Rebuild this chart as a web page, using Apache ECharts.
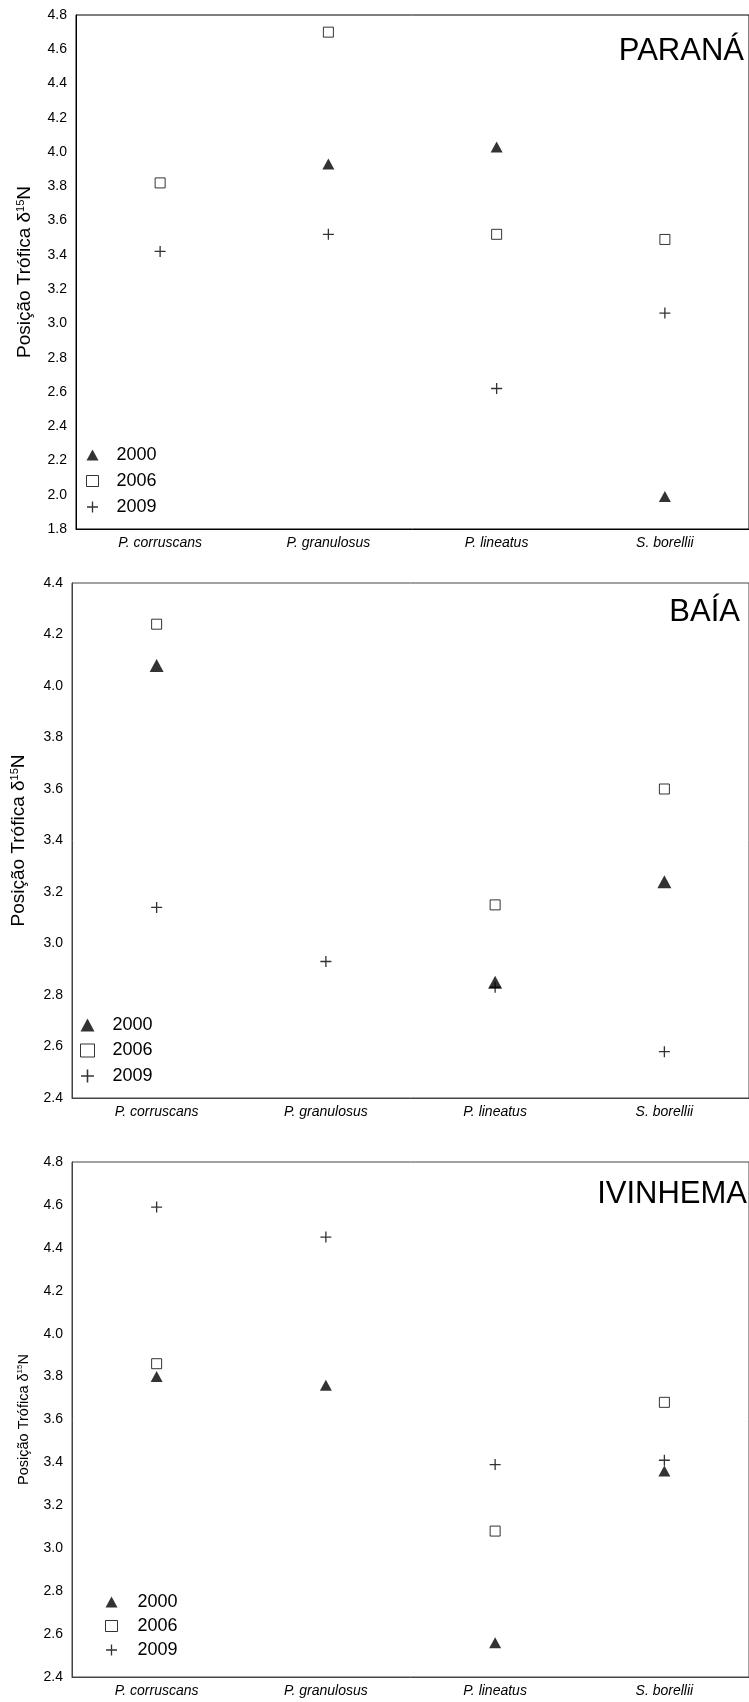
<!DOCTYPE html>
<html>
<head>
<meta charset="utf-8">
<script src="https://cdn.jsdelivr.net/npm/echarts@6/dist/echarts.min.js"></script>
<style>
  html, body { margin: 0; padding: 0; background: #fff; }
  #chart { width: 749px; height: 1702px; }
</style>
</head>
<body>
<div id="chart"></div>
<script>
// Species on the x axis, sampling years as series
const species = ['P. corruscans', 'P. granulosus', 'P. lineatus', 'S. borellii'];
const years = ['2000', '2006', '2009'];

// Trophic position (δ15N) per species, one array per year and site
const parana2000 = [null, 3.93, 4.03, 1.99];
const parana2006 = [3.82, 4.70, 3.52, 3.49];
const parana2009 = [3.42, 3.52, 2.62, 3.06];

const baia2000 = [4.08, null, 2.85, 3.24];
const baia2006 = [4.24, null, 3.15, 3.60];
const baia2009 = [3.14, 2.93, 2.83, 2.58];

const ivinhema2000 = [3.80, 3.76, 2.56, 3.36];
const ivinhema2006 = [3.86, null, 3.08, 3.68];
const ivinhema2009 = [4.59, 4.45, 3.39, 3.41];

const sites = ['PARANÁ', 'BAÍA', 'IVINHEMA'];
const yRanges = [[1.8, 4.8], [2.4, 4.4], [2.4, 4.8]];
const yTitle = '{t|Posição Trófica δ}{s|15}{t|N}';

const FONT = '"Liberation Sans", Arial, sans-serif';
const PLUS = 'path://M4.4,0H5.6V4.4H10V5.6H5.6V10H4.4V5.6H0V4.4H4.4Z';

const panelData = [
  [parana2000, parana2006, parana2009],
  [baia2000, baia2006, baia2009],
  [ivinhema2000, ivinhema2006, ivinhema2009]
];

// layout of the three stacked panels
const grids = [
  { left: 76, top: 15, width: 680, height: 514 },
  { left: 72, top: 583, width: 680, height: 515 },
  { left: 72, top: 1162, width: 680, height: 515 }
];
const axisColors = ['#000', '#444', '#444'];
const triSize = [[12, 11], [14, 13], [12, 11]];
const titleFont = [19, 19, 14.5];
const nameGaps = [42, 44, 41];
const legendPos = [
  { left: 86, top: 446, icon: 12, gap: 8, pad: 13 },
  { left: 80, top: 1016, icon: 14, gap: 7.5, pad: 13 },
  { left: 105, top: 1593, icon: 12, gap: 6, pad: 15 }
];
const titlePos = [
  { right: 5, top: 36 },
  { right: 9, top: 597 },
  { right: 2, top: 1179 }
];

const symbolFor = (k, p) => {
  if (k === 0) return { symbol: 'triangle', symbolSize: triSize[p], itemStyle: { color: '#000' } };
  if (k === 1) return { symbol: 'rect', symbolSize: 10, itemStyle: { color: '#fff', borderColor: '#000', borderWidth: 1 } };
  return { symbol: PLUS, symbolSize: 11, itemStyle: { color: '#000' } };
};

const option = {
  animation: false,
  backgroundColor: '#fff',
  textStyle: { fontFamily: FONT, color: '#000' },
  title: sites.map((s, i) => ({
    text: s,
    right: titlePos[i].right,
    top: titlePos[i].top,
    padding: 0,
    textStyle: { fontFamily: FONT, fontSize: 31, fontWeight: 'normal', color: '#000' }
  })),
  grid: grids.map((g, i) => Object.assign({
    show: true, borderColor: axisColors[i], borderWidth: 1, backgroundColor: 'transparent'
  }, g)),
  legend: legendPos.map((L, i) => ({
    orient: 'vertical',
    left: L.left,
    top: L.top,
    itemWidth: L.icon,
    itemHeight: L.icon - 1,
    itemGap: L.gap,
    padding: 0,
    selectedMode: false,
    textStyle: { fontFamily: FONT, fontSize: 18, lineHeight: 18, color: '#000', padding: [0, 0, 0, L.pad] },
    data: [
      { name: years[0], icon: 'triangle', itemStyle: { color: '#000' } },
      { name: years[1], icon: 'rect', itemStyle: { color: '#fff', borderColor: '#000', borderWidth: 1 } },
      { name: years[2], icon: PLUS, itemStyle: { color: '#000' } }
    ]
  })),
  xAxis: grids.map((g, i) => ({
    type: 'category',
    gridIndex: i,
    data: species,
    boundaryGap: true,
    axisLine: { show: true, lineStyle: { color: axisColors[i], width: 1 } },
    axisTick: { show: false },
    splitLine: { show: false },
    axisLabel: { fontFamily: FONT, fontSize: 14, fontStyle: 'italic', color: '#000', margin: 7 }
  })),
  yAxis: yRanges.map((r, i) => ({
    type: 'value',
    gridIndex: i,
    min: r[0],
    max: r[1],
    interval: 0.2,
    axisLine: { show: true, lineStyle: { color: axisColors[i], width: 1 } },
    axisTick: { show: false },
    splitLine: { show: false },
    axisLabel: {
      fontFamily: FONT, fontSize: 14, color: '#000', margin: 9,
      formatter: v => v.toFixed(1)
    },
    name: yTitle,
    nameLocation: 'middle',
    nameRotate: 90,
    nameGap: nameGaps[i],
    nameTextStyle: {
      rich: {
        t: { fontFamily: FONT, fontSize: titleFont[i], color: '#000' },
        s: { fontFamily: FONT, fontSize: Math.round(titleFont[i] * 0.58), color: '#000', verticalAlign: 'top' }
      }
    }
  })),
  series: []
};

panelData.forEach((sets, p) => {
  sets.forEach((vals, k) => {
    option.series.push(Object.assign({
      type: 'scatter',
      name: years[k],
      xAxisIndex: p,
      yAxisIndex: p,
      data: vals.map(v => (v === null ? '-' : v))
    }, symbolFor(k, p)));
  });
});

const chart = echarts.init(document.getElementById('chart'), null, { renderer: 'canvas' });
chart.setOption(option);
</script>
</body>
</html>
